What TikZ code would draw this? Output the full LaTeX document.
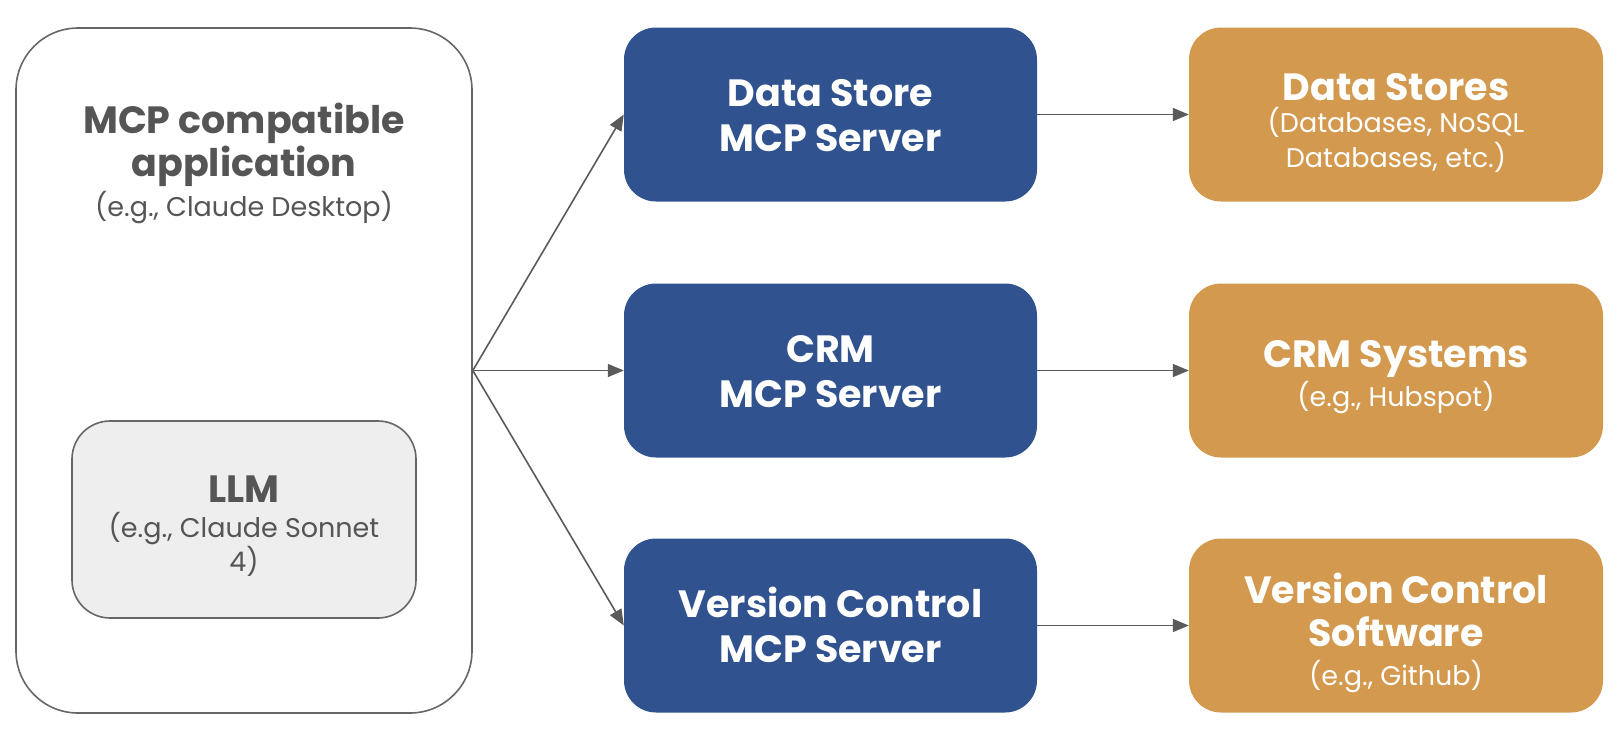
\documentclass[tikz,border=0pt]{standalone}
\usepackage{fontspec}
\setmainfont{Poppins}
\usetikzlibrary{arrows.meta}
\definecolor{bluebox}{HTML}{30528F}
\definecolor{orangebox}{HTML}{D3994E}
\definecolor{txtgray}{HTML}{555555}
\definecolor{linegray}{HTML}{666666}
\definecolor{llmfill}{HTML}{EEEEEE}
\definecolor{arrowgray}{HTML}{5A5A5A}
\tikzset{
  appbox/.style={draw=linegray, line width=1.6pt, rounded corners=62pt, fill=white,
    minimum width=456pt, minimum height=685pt, inner sep=0pt},
  llmbox/.style={draw=linegray, line width=1.6pt, rounded corners=38pt, fill=llmfill,
    minimum width=344pt, minimum height=197pt, inner sep=0pt},
  srvbox/.style={fill=bluebox, rounded corners=32pt, minimum width=413pt, minimum height=174pt, inner sep=0pt},
  sysbox/.style={fill=orangebox, rounded corners=32pt, minimum width=414pt, minimum height=174pt, inner sep=0pt},
  ttl/.style={anchor=base, inner sep=0pt, font=\fontsize{38}{44}\selectfont\bfseries},
  sub/.style={anchor=base, inner sep=0pt, font=\fontsize{27}{34}\selectfont},
  conn/.style={draw=arrowgray, line width=1.6pt, -{Triangle[length=16pt,width=13pt]}},
}
\begin{document}
\begin{tikzpicture}[x=1pt,y=-1pt]
\useasboundingbox (0,0) rectangle (1620,732);
% boxes
\node[appbox] (app) at (244,370.5) {};
\node[llmbox] (llm) at (244,519.5) {};
\node[srvbox] (ds) at (830.5,114.5) {};
\node[srvbox] (crm) at (830.5,370.5) {};
\node[srvbox] (vc) at (830.5,625.5) {};
\node[sysbox] (dst) at (1396,114.5) {};
\node[sysbox] (crms) at (1396,370.5) {};
\node[sysbox] (vcs) at (1396,625.5) {};
% app text
\node[ttl, text=txtgray] (appt1) at (244,133) {MCP compatible};
\node[ttl, text=txtgray] (appt2) at (244,176) {application};
\node[sub, text=txtgray] (apps) at (244,216) {(e.g., Claude Desktop)};
% llm text
\node[ttl, text=txtgray] (llmt) at (244,502) {LLM};
\node[sub, text=txtgray] (llms1) at (244,537) {(e.g., Claude Sonnet};
\node[sub, text=txtgray] (llms2) at (244,571) {4)};
% server text
\node[ttl, text=white] (dst1) at (830.5,106.5) {Data Store};
\node[ttl, text=white] (dst2) at (830.5,151) {MCP Server};
\node[ttl, text=white] (crmt1) at (830.5,362.5) {CRM};
\node[ttl, text=white] (crmt2) at (830.5,407) {MCP Server};
\node[ttl, text=white] (vct1) at (830.5,617.5) {Version Control};
\node[ttl, text=white] (vct2) at (830.5,662) {MCP Server};
% system text
\node[ttl, text=white] (dsst) at (1396,100.5) {Data Stores};
\node[sub, text=white] (dsss1) at (1396,132) {(Databases, NoSQL};
\node[sub, text=white] (dsss2) at (1396,167) {Databases, etc.)};
\node[ttl, text=white] (crmst) at (1396,367.5) {CRM Systems};
\node[sub, text=white] (crmss) at (1396,406) {(e.g., Hubspot)};
\node[ttl, text=white] (vcst1) at (1396,603.5) {Version Control};
\node[ttl, text=white] (vcst2) at (1396,646.5) {Software};
\node[sub, text=white] (vcss) at (1396,685) {(e.g., Github)};
% connectors
\draw[conn] (app.east) -- (ds.west);
\draw[conn] (app.east) -- (crm.west);
\draw[conn] (app.east) -- (vc.west);
\draw[conn] (ds.east) -- (dst.west);
\draw[conn] (crm.east) -- (crms.west);
\draw[conn] (vc.east) -- (vcs.west);
\end{tikzpicture}
\end{document}
